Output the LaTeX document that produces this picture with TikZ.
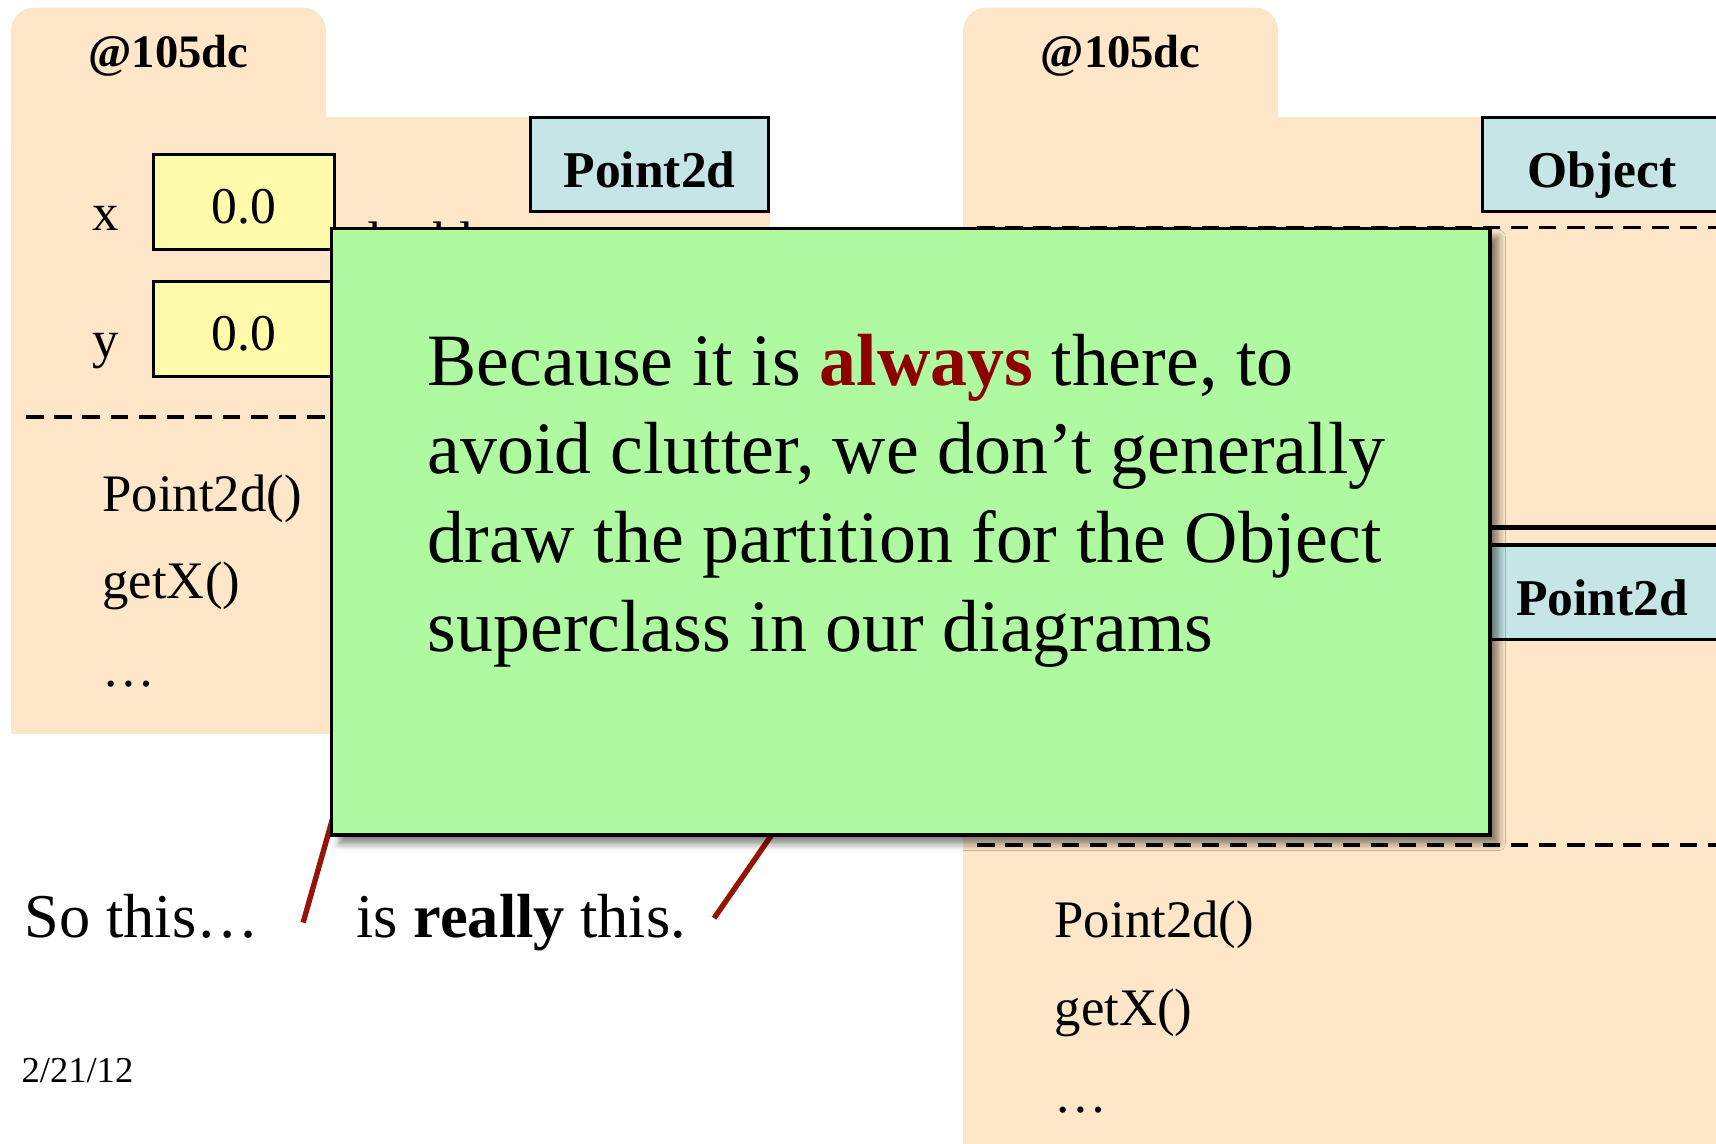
\documentclass[tikz,border=0pt]{standalone}
\usepackage{fontspec}
\setmainfont{Liberation Serif}
\usetikzlibrary{shadows.blur}
\definecolor{peach}{RGB}{254,230,200}
\definecolor{clsblue}{RGB}{197,229,231}
\definecolor{fieldyel}{RGB}{255,251,170}
\definecolor{notegreen}{RGB}{175,250,160}
\definecolor{darkred}{RGB}{140,0,0}
\definecolor{linered}{RGB}{150,20,5}
\tikzset{
 clsbox/.style={draw=black, line width=0.8pt, fill=clsblue, inner sep=0pt, outer sep=0pt, minimum width=2.18cm, minimum height=0.86cm, text height=0.42cm, text depth=0cm, font=\fontsize{13.4}{16}\selectfont\bfseries},
 fieldbox/.style={draw=black, line width=0.8pt, fill=fieldyel, inner sep=0pt, minimum width=1.66cm, minimum height=0.87cm, text height=0.39cm, text depth=0cm, font=\fontsize{13.4}{16}\selectfont},
 plain/.style={inner sep=0pt, font=\fontsize{13.7}{16}\selectfont, anchor=base west},
 tabtext/.style={inner sep=0pt, anchor=base, font=\fontsize{12.1}{14}\selectfont\bfseries},
 partline/.style={line width=0.9pt, dash pattern=on 4.5pt off 2.8pt},
 notetext/.style={inner sep=0pt, anchor=base west, font=\fontsize{19.2}{23}\selectfont},
 captext/.style={inner sep=0pt, anchor=base west, font=\fontsize{16.2}{19}\selectfont},
 callout/.style={draw=linered, line width=1.4pt},
}
\begin{document}
\begin{tikzpicture}[x=0.01cm, y=-0.01cm]
\useasboundingbox (0,0) rectangle (1568,1045);
\clip (0,0) rectangle (1568,1045);
% ---------- left object ----------
\fill[peach, rounded corners=6pt] (10,7) rectangle (298,150);
\fill[peach] (10,107) rectangle (704,671);
\node[tabtext] (ltab) at (154,62) {@105dc};
\node[clsbox] (lcls) at (593.5,150) {Point2d};
\node[plain, anchor=base] (xlab) at (97,211) {x};
\node[fieldbox] (xval) at (223,184.5) {0.0};
\node[plain, anchor=base] (ylab) at (97,327) {y};
\node[fieldbox] (yval) at (223,300.5) {0.0};
\node[plain] (dbl) at (323,236) {double};
\draw[partline] (24,381) -- (700,381);
\node[plain] (lm1) at (93,467) {Point2d()};
\node[plain] (lm2) at (93,547) {getX()};
\node[plain] (lm3) at (93,627) {…};
% ---------- right object ----------
\fill[peach, rounded corners=6pt] (880,7) rectangle (1168,150);
\fill[peach] (880,107) rectangle (1600,1100);
\node[tabtext] (rtab) at (1024,62) {@105dc};
\node[clsbox] (rcls) at (1464,150) {Object};
\draw[partline] (893,208) -- (1568,208);
\draw[line width=1.1pt] (893,482) -- (1568,482);
\node[clsbox] (rcls2) at (1464,541) {Point2d};
\draw[partline] (893,772) -- (1568,772);
\node[plain] (rm1) at (963,857) {Point2d()};
\node[plain] (rm2) at (963,937) {getX()};
\node[plain] (rm3) at (963,1017) {…};
% ---------- callout lines ----------
\coordinate (c1s) at (311,723);
\coordinate (c1e) at (277,843);
\coordinate (c2s) at (721,740);
\coordinate (c2e) at (652.5,839);
\draw[callout] (c1s) -- (c1e);
\draw[callout] (c2s) -- (c2e);
% ---------- note ----------
\node[draw=black, line width=0.9pt, fill=notegreen, minimum width=10.58cm, minimum height=5.54cm,
      blur shadow={shadow xshift=2.2pt, shadow yshift=-2.2pt, shadow blur steps=6, shadow opacity=50}] (note) at (832,486) {};
\node[notetext] (g1) at (390,352) {Because it is \textcolor{darkred}{\bfseries always} there, to};
\node[notetext] (g2) at (390,433) {avoid clutter, we don’t generally};
\node[notetext] (g3) at (390,514) {draw the partition for the Object};
\node[notetext] (g4) at (390,595) {superclass in our diagrams};
% ---------- captions ----------
\node[captext] (so) at (22,857) {So this…};
\node[captext] (really) at (325,857) {is \textbf{really} this.};
\node[inner sep=0pt, anchor=base west, font=\fontsize{9.5}{11}\selectfont] (date) at (19,989) {2/21/12};
\end{tikzpicture}
\end{document}
